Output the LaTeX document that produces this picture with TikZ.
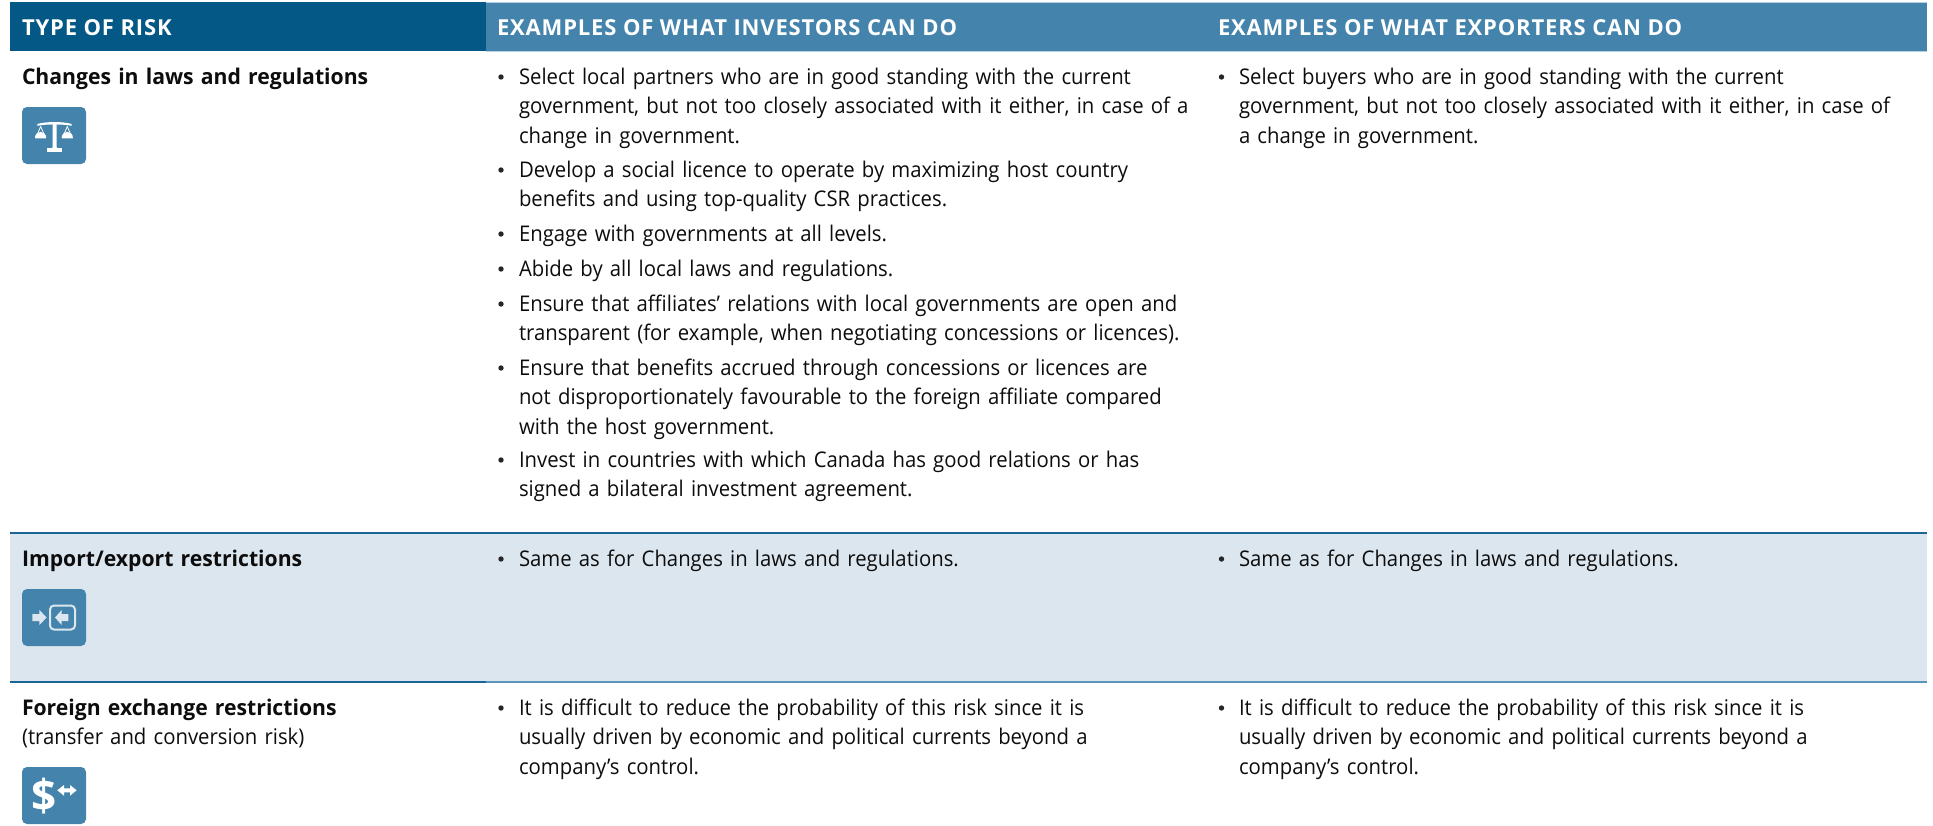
\documentclass[tikz,border=0pt]{standalone}
\usepackage{fontspec}
\setmainfont{Open Sans}[FakeStretch=0.94,BoldFeatures={FakeStretch=0.98}]
\newfontfamily\dollarfont{Open Sans}
\newfontfamily\headfont{Open Sans}[LetterSpace=3.8]
\definecolor{headdark}{HTML}{035885}
\definecolor{headlight}{HTML}{4484AC}
\definecolor{headedge}{HTML}{B5D0E3}
\definecolor{bandfill}{HTML}{DCE6EF}
\definecolor{ruledark}{HTML}{1A6596}
\definecolor{rulelight}{HTML}{5A95BC}
\definecolor{iconline}{HTML}{DCE6EF}
\tikzset{
  para/.style={anchor=north west,inner sep=0pt,outer sep=0pt,yshift=22pt,text width=720pt,align=left,text=black!95,
    font=\fontsize{21.6}{29.7}\selectfont},
  boldhead/.style={para,font=\fontsize{21.6}{29.7}\selectfont\bfseries},
  headtext/.style={anchor=base west,inner sep=0pt,outer sep=0pt,text=white,font=\fontsize{22}{26}\selectfont\headfont\bfseries},
  bulletdot/.style={circle,fill=black!85,inner sep=0pt,minimum size=5.4pt},
  iconbox/.style={fill=headlight,rounded corners=5pt},
  iconfill/.style={fill=white,draw=none},
}
\newcommand{\bulletitem}[5]{%
  \node[bulletdot] (#1b) at (#2,#4-7) {};
  \node[para] (#1) at (#3,#4) {\rule{0pt}{22pt}#5};}
\begin{document}
\begin{tikzpicture}[x=1pt,y=-1pt]
\useasboundingbox (0,0) rectangle (1933,825);
\fill[white] (0,0) rectangle (1933,825);
% header
\fill[headlight] (486,2) rectangle (1927,51);
\draw[headedge,line width=1pt] (486,2) -- (1927,2) (486,51) -- (1927,51);
\fill[headdark] (10,2) rectangle (486,51);
\node[headtext] (h1) at (22,35) {TYPE OF RISK};
\node[headtext] (h2) at (497,35) {EXAMPLES OF WHAT INVESTORS CAN DO};
\node[headtext] (h3) at (1218,35) {EXAMPLES OF WHAT EXPORTERS CAN DO};
% band
\fill[bandfill] (10,533) rectangle (1927,682);
\draw[ruledark,line width=1.3pt] (10,533) -- (1927,533);
\draw[rulelight,line width=1.3pt] (486,682) -- (1927,682);
\draw[ruledark,line width=1.3pt] (10,682) -- (486,682);
% first column
\node[boldhead] (r1) at (22,84) {\rule{0pt}{22pt}Changes in laws and regulations};
\node[boldhead] (r2) at (22,566) {\rule{0pt}{22pt}Import/export restrictions};
\node[para] (r3) at (22,715) {\rule{0pt}{22pt}\textbf{Foreign exchange restrictions}\\(transfer and conversion risk)};
% investors
\bulletitem{a1}{501}{519}{84}{Select local partners who are in good standing with the current\\government, but not too closely associated with it either, in case of a\\change in government.}
\bulletitem{a2}{501}{519}{177}{Develop a social licence to operate by maximizing host country\\benefits and using top-quality CSR practices.}
\bulletitem{a3}{501}{519}{241}{Engage with governments at all levels.}
\bulletitem{a4}{501}{519}{276}{Abide by all local laws and regulations.}
\bulletitem{a5}{501}{519}{311}{Ensure that affiliates’ relations with local governments are open and\\transparent (for example, when negotiating concessions or licences).}
\bulletitem{a6}{501}{519}{375}{Ensure that benefits accrued through concessions or licences are\\not disproportionately favourable to the foreign affiliate compared\\with the host government.}
\bulletitem{a7}{501}{519}{467}{Invest in countries with which Canada has good relations or has\\signed a bilateral investment agreement.}
\bulletitem{a8}{501}{519}{566}{Same as for Changes in laws and regulations.}
\bulletitem{a9}{501}{519}{715}{It is difficult to reduce the probability of this risk since it is\\usually driven by economic and political currents beyond a\\company’s control.}
% exporters
\bulletitem{b1}{1221.5}{1239}{84}{Select buyers who are in good standing with the current\\government, but not too closely associated with it either, in case of\\a change in government.}
\bulletitem{b8}{1221.5}{1239}{566}{Same as for Changes in laws and regulations.}
\bulletitem{b9}{1221.5}{1239}{715}{It is difficult to reduce the probability of this risk since it is\\usually driven by economic and political currents beyond a\\company’s control.}
% icon 1: scales
\fill[iconbox] (22,107) rectangle (86,164);
\fill[iconfill] (37.3,124) .. controls (45,121.4) and (64,121.4) .. (71.7,124) -- (71.7,125.8) .. controls (64,124) and (45,124) .. (37.3,125.8) -- cycle;
\fill[iconfill] (52.7,123) -- (56.7,123) -- (56.7,147) -- (57.5,148.5) -- (51.9,148.5) -- (52.7,147) -- cycle;
\fill[iconfill] (47.3,148.3) rectangle (61.7,151.7);
\draw[white,line width=0.8pt] (40.7,126.5) -- (35.8,138) -- (45.6,138) -- cycle (67.3,126.5) -- (62.4,138) -- (72.2,138) -- cycle;
\fill[iconfill] (35,137.8) arc[start angle=180,end angle=360,x radius=5.6,y radius=6] -- cycle;
\fill[iconfill] (61.7,137.8) arc[start angle=180,end angle=360,x radius=5.6,y radius=6] -- cycle;
% icon 2: arrows
\fill[iconbox] (22,589) rectangle (86,646);
\fill[iconline] (32.3,614) -- (39.3,614) -- (39.3,610) -- (46.7,617.5) -- (39.3,625) -- (39.3,621) -- (32.3,621) -- cycle;
\draw[iconline,line width=2pt,rounded corners=4pt] (50,605.5) rectangle (75,629.5);
\fill[iconline] (68.3,614) -- (61.7,614) -- (61.7,610) -- (55,617.5) -- (61.7,625) -- (61.7,621) -- (68.3,621) -- cycle;
% icon 3: dollar
\fill[iconbox] (22,767) rectangle (86,824);
\node[inner sep=0pt,text=white,font=\fontsize{44}{44}\selectfont\dollarfont\bfseries] (dollar) at (44,796.5) {\$};
\fill[iconfill] (57.3,790.3) -- (64,785) -- (64,788.3) -- (70,788.3) -- (70,785) -- (76.7,790.3) -- (70,795.7) -- (70,792.4) -- (64,792.4) -- (64,795.7) -- cycle;
\end{tikzpicture}
\end{document}
